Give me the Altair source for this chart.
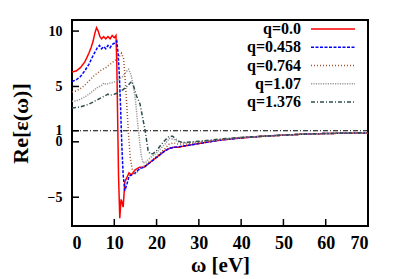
import altair as alt
import pandas as pd

# ---- data ----
labels = ["q=0.0", "q=0.458", "q=0.764", "q=1.07", "q=1.376"]
colors = ["#ff0000", "#0000ff", "#a0522d", "#999999", "#2f4f4f"]
dashes = [[1, 0], [3, 1.5], [1, 2], [1.2, 1.2], [4, 2, 1, 2]]

w_q0 = [0, 1, 2, 3, 4, 4.5, 5, 5.4, 5.8, 6.2, 6.6, 7, 7.5, 8, 8.5, 9, 9.5, 10, 10.4, 10.6, 10.8, 11.0, 11.3, 11.6, 11.8, 12.1, 12.5, 13, 13.5, 14, 15, 16, 17, 18, 20, 22, 23, 24, 25, 27, 30, 35, 40, 45, 50, 55, 60, 65, 70]
e_q0 = [6.3, 6.4, 6.7, 7.2, 8.0, 8.5, 9.1, 9.8, 10.3, 10.0, 9.5, 9.3, 9.5, 9.3, 9.5, 9.3, 9.6, 9.4, 9.6, 7.0, 2.0, -3.0, -6.9, -5.2, -5.4, -5.9, -3.6, -3.2, -2.8, -3.0, -2.5, -2.3, -2.3, -2.0, -1.4, -0.8, -0.6, -0.5, -0.5, -0.35, -0.15, 0.15, 0.35, 0.5, 0.6, 0.7, 0.75, 0.78, 0.8]

w_q1 = [0, 1, 2, 3, 4, 5, 6, 6.5, 7, 7.5, 8, 8.5, 9, 9.5, 10, 10.6, 10.9, 11.2, 11.5, 11.8, 12.1, 12.5, 13, 13.5, 14, 15, 16, 17, 18, 20, 22, 23, 24, 25, 27, 30, 35, 40, 45, 50, 55, 60, 65, 70]
e_q1 = [5.45, 5.6, 5.9, 6.4, 7.0, 7.8, 8.5, 8.7, 8.4, 8.6, 8.4, 8.7, 8.5, 8.8, 8.9, 9.1, 8.0, 6.0, 3.0, -0.5, -3.0, -4.4, -3.8, -3.1, -3.0, -2.8, -2.4, -2.3, -2.0, -1.4, -0.8, -0.6, -0.5, -0.45, -0.35, -0.15, 0.15, 0.35, 0.5, 0.6, 0.7, 0.75, 0.78, 0.8]

w_q2 = [0, 1, 2, 3, 4, 5, 6, 7, 8, 9, 10, 11, 11.7, 12.2, 12.6, 13.0, 13.4, 13.8, 14.3, 14.8, 15.5, 16.5, 17, 18, 20, 22, 23, 24, 25, 27, 30, 35, 40, 45, 50, 55, 60, 65, 70]
e_q2 = [4.5, 4.6, 4.8, 5.1, 5.5, 5.9, 6.2, 6.5, 6.7, 7.0, 7.3, 7.6, 8.0, 7.5, 5.5, 3.0, 0.5, -1.5, -2.6, -2.9, -2.7, -2.3, -2.2, -1.9, -1.3, -0.6, -0.2, -0.1, -0.2, -0.2, -0.05, 0.2, 0.4, 0.5, 0.6, 0.7, 0.75, 0.8, 0.82]

w_q3 = [0, 1, 2, 3, 4, 5, 6, 7, 7.5, 8, 9, 10, 11, 12, 13, 13.4, 14.0, 14.5, 15.0, 15.5, 16.0, 16.4, 16.8, 17.3, 18, 20, 22, 23, 24, 25, 27, 30, 35, 40, 45, 50, 55, 60, 65, 70]
e_q3 = [3.66, 3.7, 3.85, 4.05, 4.3, 4.6, 4.9, 5.1, 5.3, 5.2, 5.3, 5.4, 5.6, 5.9, 6.4, 6.55, 6.0, 5.0, 3.8, 1.8, 0.0, -1.3, -1.9, -1.9, -1.6, -1.0, -0.2, 0.3, 0.25, 0.0, -0.1, 0.0, 0.2, 0.4, 0.5, 0.6, 0.7, 0.75, 0.8, 0.82]

w_q4 = [0, 2, 4, 5, 6, 7, 8, 8.5, 9, 10, 11, 12, 13, 14.1, 14.6, 15.2, 16.1, 16.7, 17.3, 18.0, 18.5, 19.2, 20, 21, 22, 23, 23.8, 25, 26, 27, 30, 35, 40, 45, 50, 55, 60, 65, 70]
e_q4 = [3.06, 3.15, 3.4, 3.6, 3.8, 4.0, 4.2, 4.3, 4.2, 4.3, 4.45, 4.7, 5.0, 5.45, 5.0, 4.2, 3.4, 2.2, 1.0, -0.8, -1.1, -1.05, -0.8, -0.3, 0.15, 0.5, 0.5, 0.1, -0.05, -0.05, 0.05, 0.25, 0.4, 0.5, 0.6, 0.7, 0.75, 0.8, 0.82]

x_ticks = [0, 10, 20, 30, 40, 50, 60, 70]
y_ticks = [10, 5, 1, 0, -5]
ref_level = [1]

W, H = 296, 206
FONT = "'Liberation Serif', 'Times New Roman', Times, 'DejaVu Serif', serif"

series = [(w_q0, e_q0), (w_q1, e_q1), (w_q2, e_q2), (w_q3, e_q3), (w_q4, e_q4)]
rows = []
for i, (ws, es) in enumerate(series):
    for k, (a, b) in enumerate(zip(ws, es)):
        rows.append({"q": labels[i], "order": i, "idx": k, "w": a, "e": b})
df = pd.DataFrame(rows)

xs = alt.Scale(domain=[0, 70], nice=False, zero=False)
ys = alt.Scale(domain=[-7.6, 11], nice=False, zero=False)
cscale = alt.Scale(domain=labels, range=colors)
dscale = alt.Scale(domain=labels, range=dashes)

lines = alt.Chart(df).mark_line(strokeWidth=1.5, clip=True).encode(
    x=alt.X("w:Q", scale=xs, axis=alt.Axis(
        values=x_ticks, ticks=False, domain=False, grid=False,
        labelFont=FONT, labelFontWeight="bold", labelFontSize=18, labelColor="black",
        labelPadding=8, title="ω [eV]", titleFont=FONT, titleFontWeight="bold",
        titleFontSize=21, titleColor="black", titlePadding=2)),
    y=alt.Y("e:Q", scale=ys, axis=alt.Axis(
        values=y_ticks, ticks=False, domain=False, grid=False, labelOverlap=False,
        labelFont=FONT, labelFontWeight="bold", labelFontSize=14, labelColor="black",
        labelPadding=10, title="Re[ε(ω)]", titleFont=FONT, titleFontWeight="bold",
        titleFontSize=22, titleColor="black", titlePadding=15)),
    color=alt.Color("q:N", scale=cscale, legend=None),
    strokeDash=alt.StrokeDash("q:N", scale=dscale, legend=None),
    detail="q:N",
    order="idx:Q",
)

hline = alt.Chart(pd.DataFrame({"e": ref_level})).mark_rule(
    color="black", strokeWidth=1, strokeDash=[5, 2, 1, 2]).encode(
    y=alt.Y("e:Q", scale=ys))

xt = alt.Chart(pd.DataFrame({"w": x_ticks[1:-1]})).mark_rule(color="black", strokeWidth=1.5).encode(
    x=alt.X("w:Q", scale=xs), y=alt.value(H), y2=alt.value(H - 7))

yt = alt.Chart(pd.DataFrame({"e": y_ticks})).mark_rule(color="black", strokeWidth=1.5).encode(
    y=alt.Y("e:Q", scale=ys), x=alt.value(0), x2=alt.value(7))

main = alt.layer(hline, lines, xt, yt)

leg_df = pd.DataFrame({"q": labels, "row": list(range(len(labels)))})
ly = alt.Y("row:Q", scale=alt.Scale(domain=[0, 4], range=[9, 82]), axis=None)
leg_text = alt.Chart(leg_df).mark_text(
    align="right", baseline="middle", font=FONT, fontWeight="bold", fontSize=16, color="black"
).encode(text="q:N", y=ly, x=alt.value(229))
leg_line = alt.Chart(leg_df).mark_rule(strokeWidth=1.5).encode(
    y=ly, x=alt.value(239), x2=alt.value(283),
    color=alt.Color("q:N", scale=cscale, legend=None),
    strokeDash=alt.StrokeDash("q:N", scale=dscale, legend=None))
legend = alt.layer(leg_text, leg_line)

chart = alt.layer(main, legend).resolve_scale(y="independent").properties(
    width=W, height=H,
    autosize=alt.AutoSizeParams(type="none"),
    padding={"left": 64, "top": 12, "right": 15, "bottom": 50},
    background="white",
).configure_view(stroke="black", strokeWidth=2)

chart.save("out.html", embed_options={"renderer": "svg", "actions": False})
